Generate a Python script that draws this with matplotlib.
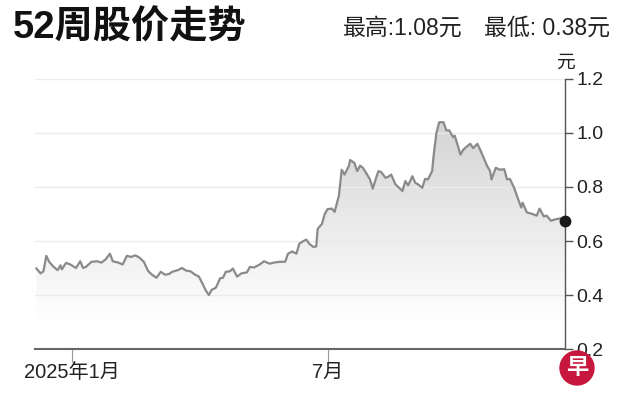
import matplotlib
matplotlib.use("Agg")
import matplotlib.pyplot as plt
import matplotlib.dates as mdates
import numpy as np
import pandas as pd
from matplotlib.colors import LinearSegmentedColormap
from matplotlib.patches import Ellipse

plt.rcParams['font.family'] = ['Noto Sans CJK SC', 'DejaVu Sans']
LATIN_CJK = ['Liberation Sans', 'Noto Sans CJK SC', 'DejaVu Sans']
NARROW = ['Liberation Sans Narrow', 'Liberation Sans', 'DejaVu Sans']

# daily-ish closing prices (yuan)
dates = [
    "2024-12-07", "2024-12-10", "2024-12-12", "2024-12-14", "2024-12-16", "2024-12-19",
    "2024-12-22", "2024-12-24", "2024-12-25", "2024-12-28", "2024-12-31", "2025-01-04",
    "2025-01-07", "2025-01-09", "2025-01-11", "2025-01-15", "2025-01-19", "2025-01-22",
    "2025-01-25", "2025-01-28", "2025-01-30", "2025-02-03", "2025-02-06", "2025-02-09",
    "2025-02-12", "2025-02-15", "2025-02-18", "2025-02-21", "2025-02-24", "2025-02-27",
    "2025-03-02", "2025-03-05", "2025-03-08", "2025-03-11", "2025-03-13", "2025-03-17",
    "2025-03-20", "2025-03-23", "2025-03-26", "2025-03-29", "2025-04-01", "2025-04-04",
    "2025-04-06", "2025-04-08", "2025-04-10", "2025-04-13", "2025-04-16", "2025-04-18",
    "2025-04-20", "2025-04-23", "2025-04-25", "2025-04-28", "2025-05-01", "2025-05-05",
    "2025-05-07", "2025-05-10", "2025-05-14", "2025-05-17", "2025-05-21", "2025-05-24",
    "2025-05-28", "2025-06-01", "2025-06-03", "2025-06-06", "2025-06-09", "2025-06-11",
    "2025-06-14", "2025-06-16", "2025-06-18", "2025-06-21", "2025-06-23", "2025-06-24",
    "2025-06-27", "2025-06-29", "2025-07-01", "2025-07-04", "2025-07-06", "2025-07-09",
    "2025-07-11", "2025-07-13", "2025-07-16", "2025-07-17", "2025-07-20", "2025-07-22",
    "2025-07-24", "2025-07-26", "2025-07-29", "2025-07-31", "2025-08-02", "2025-08-04",
    "2025-08-06", "2025-08-08", "2025-08-11", "2025-08-13", "2025-08-15", "2025-08-18",
    "2025-08-20", "2025-08-23", "2025-08-25", "2025-08-27", "2025-08-30", "2025-09-01",
    "2025-09-03", "2025-09-06", "2025-09-08", "2025-09-10", "2025-09-13", "2025-09-14",
    "2025-09-16", "2025-09-18", "2025-09-21", "2025-09-23", "2025-09-25", "2025-09-28",
    "2025-09-29", "2025-10-01", "2025-10-03", "2025-10-05", "2025-10-08", "2025-10-10",
    "2025-10-12", "2025-10-15", "2025-10-17", "2025-10-19", "2025-10-22", "2025-10-24",
    "2025-10-25", "2025-10-28", "2025-10-31", "2025-11-03", "2025-11-05", "2025-11-07",
    "2025-11-10", "2025-11-12", "2025-11-15", "2025-11-16", "2025-11-19", "2025-11-23",
    "2025-11-26", "2025-11-28", "2025-12-01", "2025-12-03", "2025-12-06", "2025-12-09",
    "2025-12-13", "2025-12-16",
]
prices = [
    0.498, 0.480, 0.488, 0.545, 0.523, 0.505,
    0.492, 0.510, 0.495, 0.519, 0.513, 0.500,
    0.525, 0.500, 0.504, 0.523, 0.525, 0.520,
    0.532, 0.553, 0.525, 0.520, 0.513, 0.545,
    0.541, 0.547, 0.538, 0.523, 0.489, 0.474,
    0.464, 0.486, 0.475, 0.478, 0.486, 0.492,
    0.500, 0.490, 0.488, 0.476, 0.468, 0.437,
    0.415, 0.400, 0.419, 0.427, 0.462, 0.464,
    0.486, 0.488, 0.498, 0.468, 0.480, 0.484,
    0.504, 0.502, 0.513, 0.525, 0.516, 0.520,
    0.523, 0.523, 0.553, 0.561, 0.553, 0.590,
    0.600, 0.605, 0.590, 0.578, 0.580, 0.645,
    0.663, 0.700, 0.718, 0.720, 0.708, 0.767,
    0.864, 0.846, 0.877, 0.900, 0.889, 0.859,
    0.879, 0.871, 0.846, 0.828, 0.794, 0.828,
    0.859, 0.855, 0.834, 0.838, 0.846, 0.810,
    0.800, 0.785, 0.822, 0.806, 0.840, 0.816,
    0.810, 0.797, 0.830, 0.828, 0.859, 0.914,
    1.000, 1.040, 1.040, 1.010, 1.010, 0.984,
    0.990, 0.956, 0.920, 0.938, 0.952, 0.960,
    0.944, 0.960, 0.938, 0.914, 0.877, 0.859,
    0.828, 0.871, 0.864, 0.866, 0.828, 0.830,
    0.797, 0.767, 0.724, 0.742, 0.706, 0.700,
    0.694, 0.720, 0.691, 0.694, 0.675, 0.680,
    0.684, 0.673,
]
y_ticks = [0.2, 0.4, 0.6, 0.8, 1.0, 1.2]
x_tick_dates = ["2025-01-01", "2025-07-01"]
x_tick_labels = ["2025年1月", "7月"]
title = "52周股价走势"
summary_high = "最高:1.08元"
summary_low = "最低: 0.38元"
unit = "元"

x = mdates.date2num(pd.to_datetime(dates))
y = np.array(prices)

W, H = 626, 418
fig = plt.figure(figsize=(W / 100, H / 100), dpi=100)
ax = fig.add_axes([35 / W, (H - 349) / H, 530 / W, 270 / H])

xlim = mdates.date2num(pd.to_datetime(["2024-12-06", "2025-12-16"]))
ax.set_xlim(xlim)
ax.set_ylim(0.2, 1.2)

# gradient fill under the line
cmap = LinearSegmentedColormap.from_list("g", ["#ffffff", "#d4d4d4"])
grad = np.clip((np.linspace(0.2, 1.2, 256) - 0.3) / 0.75, 0, 1).reshape(-1, 1)
poly = ax.fill_between(x, y, 0.2, color="none", lw=0)
img = ax.imshow(grad, extent=[xlim[0], xlim[1], 0.2, 1.2], origin="lower",
                aspect="auto", cmap=cmap, vmin=0, vmax=1, zorder=1)
img.set_clip_path(poly.get_paths()[0], transform=ax.transData)

for v in y_ticks[1:]:
    ax.axhline(v, color="#ebebeb", lw=1, zorder=2)

ax.plot(x, y, color="#8a8a8a", lw=1.6, zorder=3, solid_joinstyle="round")
ax.plot(x[-1], y[-1], "o", color="#1a1a1a", ms=7.5, zorder=4, clip_on=False)

for s in ["left", "top"]:
    ax.spines[s].set_visible(False)
ax.spines["right"].set_color("#555555")
ax.spines["right"].set_linewidth(1)
ax.spines["bottom"].set_color("#666666")
ax.spines["bottom"].set_linewidth(1.5)

ax.yaxis.tick_right()
ax.set_yticks(y_ticks)
ax.set_yticklabels([f"{v:.1f}" for v in y_ticks], family=NARROW, fontsize=14)
ax.tick_params(axis="y", direction="out", length=6, width=1, color="#555555",
               pad=2, labelcolor="#222222")

ax.set_xticks(mdates.date2num(pd.to_datetime(x_tick_dates)))
ax.set_xticklabels(x_tick_labels, family=LATIN_CJK, fontsize=14.5, color="#222222")
ax.tick_params(axis="x", direction="out", length=9, width=0.8, color="#999999", pad=1)

fig.text(565 / W, 1 - 62.5 / H, unit, fontsize=13.5, color="#222222",
         ha="center", va="center")

fig.text(13 / W, 1 - 28.5 / H, title, family=LATIN_CJK, fontsize=27.5,
         fontweight="bold", color="#111111", ha="left", va="center")
fig.text(463 / W, 1 - 28 / H, summary_high, family=LATIN_CJK, fontsize=16.5,
         color="#222222", ha="right", va="center")
fig.text(610 / W, 1 - 28 / H, summary_low, family=LATIN_CJK, fontsize=16.5,
         color="#222222", ha="right", va="center")

# publisher logo
logo = Ellipse((577 / W, 1 - 368 / H), 34 / W, 34 / H, transform=fig.transFigure,
               color="#c8173f", zorder=5)
fig.patches.append(logo)
fig.text(577 / W, 1 - 368 / H, "早", fontsize=16, fontweight="bold", color="white",
         ha="center", va="center", zorder=6)

fig.savefig("out.png", dpi=100)
